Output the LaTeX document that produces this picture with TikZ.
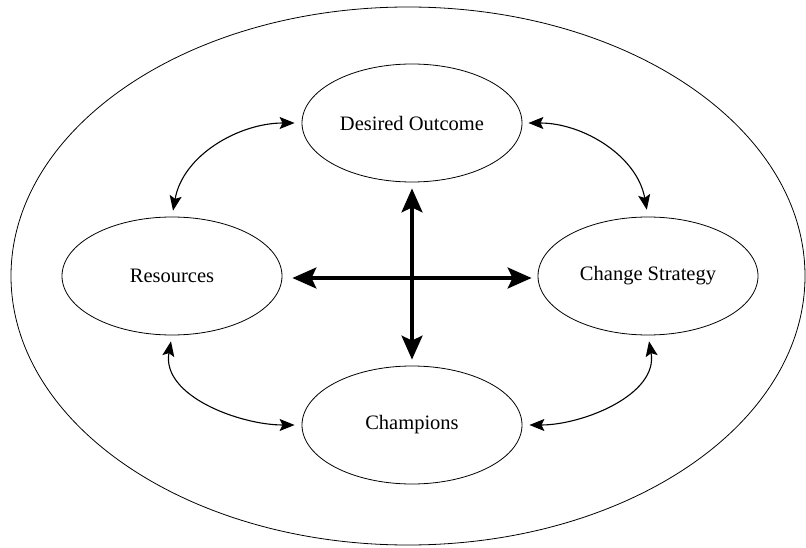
\documentclass[tikz,border=0pt]{standalone}
\usepackage{fontspec}
\setmainfont{Liberation Serif}
\usetikzlibrary{shapes.geometric,arrows.meta}
\begin{document}
\begin{tikzpicture}[x=1pt,y=-1pt,
  bubble/.style={ellipse,draw,line width=0.8pt,minimum width=220pt,minimum height=118pt,inner sep=0pt,
    font=\fontsize{20.5}{24}\selectfont},
  carrow/.style={line width=1.1pt,{Stealth[length=15pt,width=12pt,inset=3pt]}-{Stealth[length=15pt,width=12pt,inset=3pt]},
    shorten <=6pt,shorten >=7pt},
  xarrow/.style={line width=3.5pt,{Stealth[length=24pt,width=21pt,inset=5pt]}-{Stealth[length=24pt,width=21pt,inset=5pt]}}]
\useasboundingbox (0,0) rectangle (806,548);
\node[ellipse,draw,line width=0.8pt,minimum width=794pt,minimum height=538pt,inner sep=0pt] (outer) at (408,276) {};
\node[bubble] (do) at (412,123) {Desired Outcome};
\node[bubble] (res) at (172,276) {Resources};
\node[bubble] (cs) at (648,276) {Change Strategy};
\node[bubble] (ch) at (412,425) {Champions};
\draw[carrow] (res.north) to[out=80,in=180] (do.west);
\draw[carrow] (do.east) to[out=0,in=100] (cs.north);
\draw[carrow] (res.south) to[out=-100,in=180] (ch.west);
\draw[carrow] (cs.south) to[out=-80,in=0] (ch.east);
\draw[xarrow,shorten <=6pt,shorten >=6pt] (do.south) -- (ch.north);
\draw[xarrow,shorten <=10pt,shorten >=6pt] ([yshift=-2pt]res.east) -- ([yshift=-2pt]cs.west);
\end{tikzpicture}
\end{document}
